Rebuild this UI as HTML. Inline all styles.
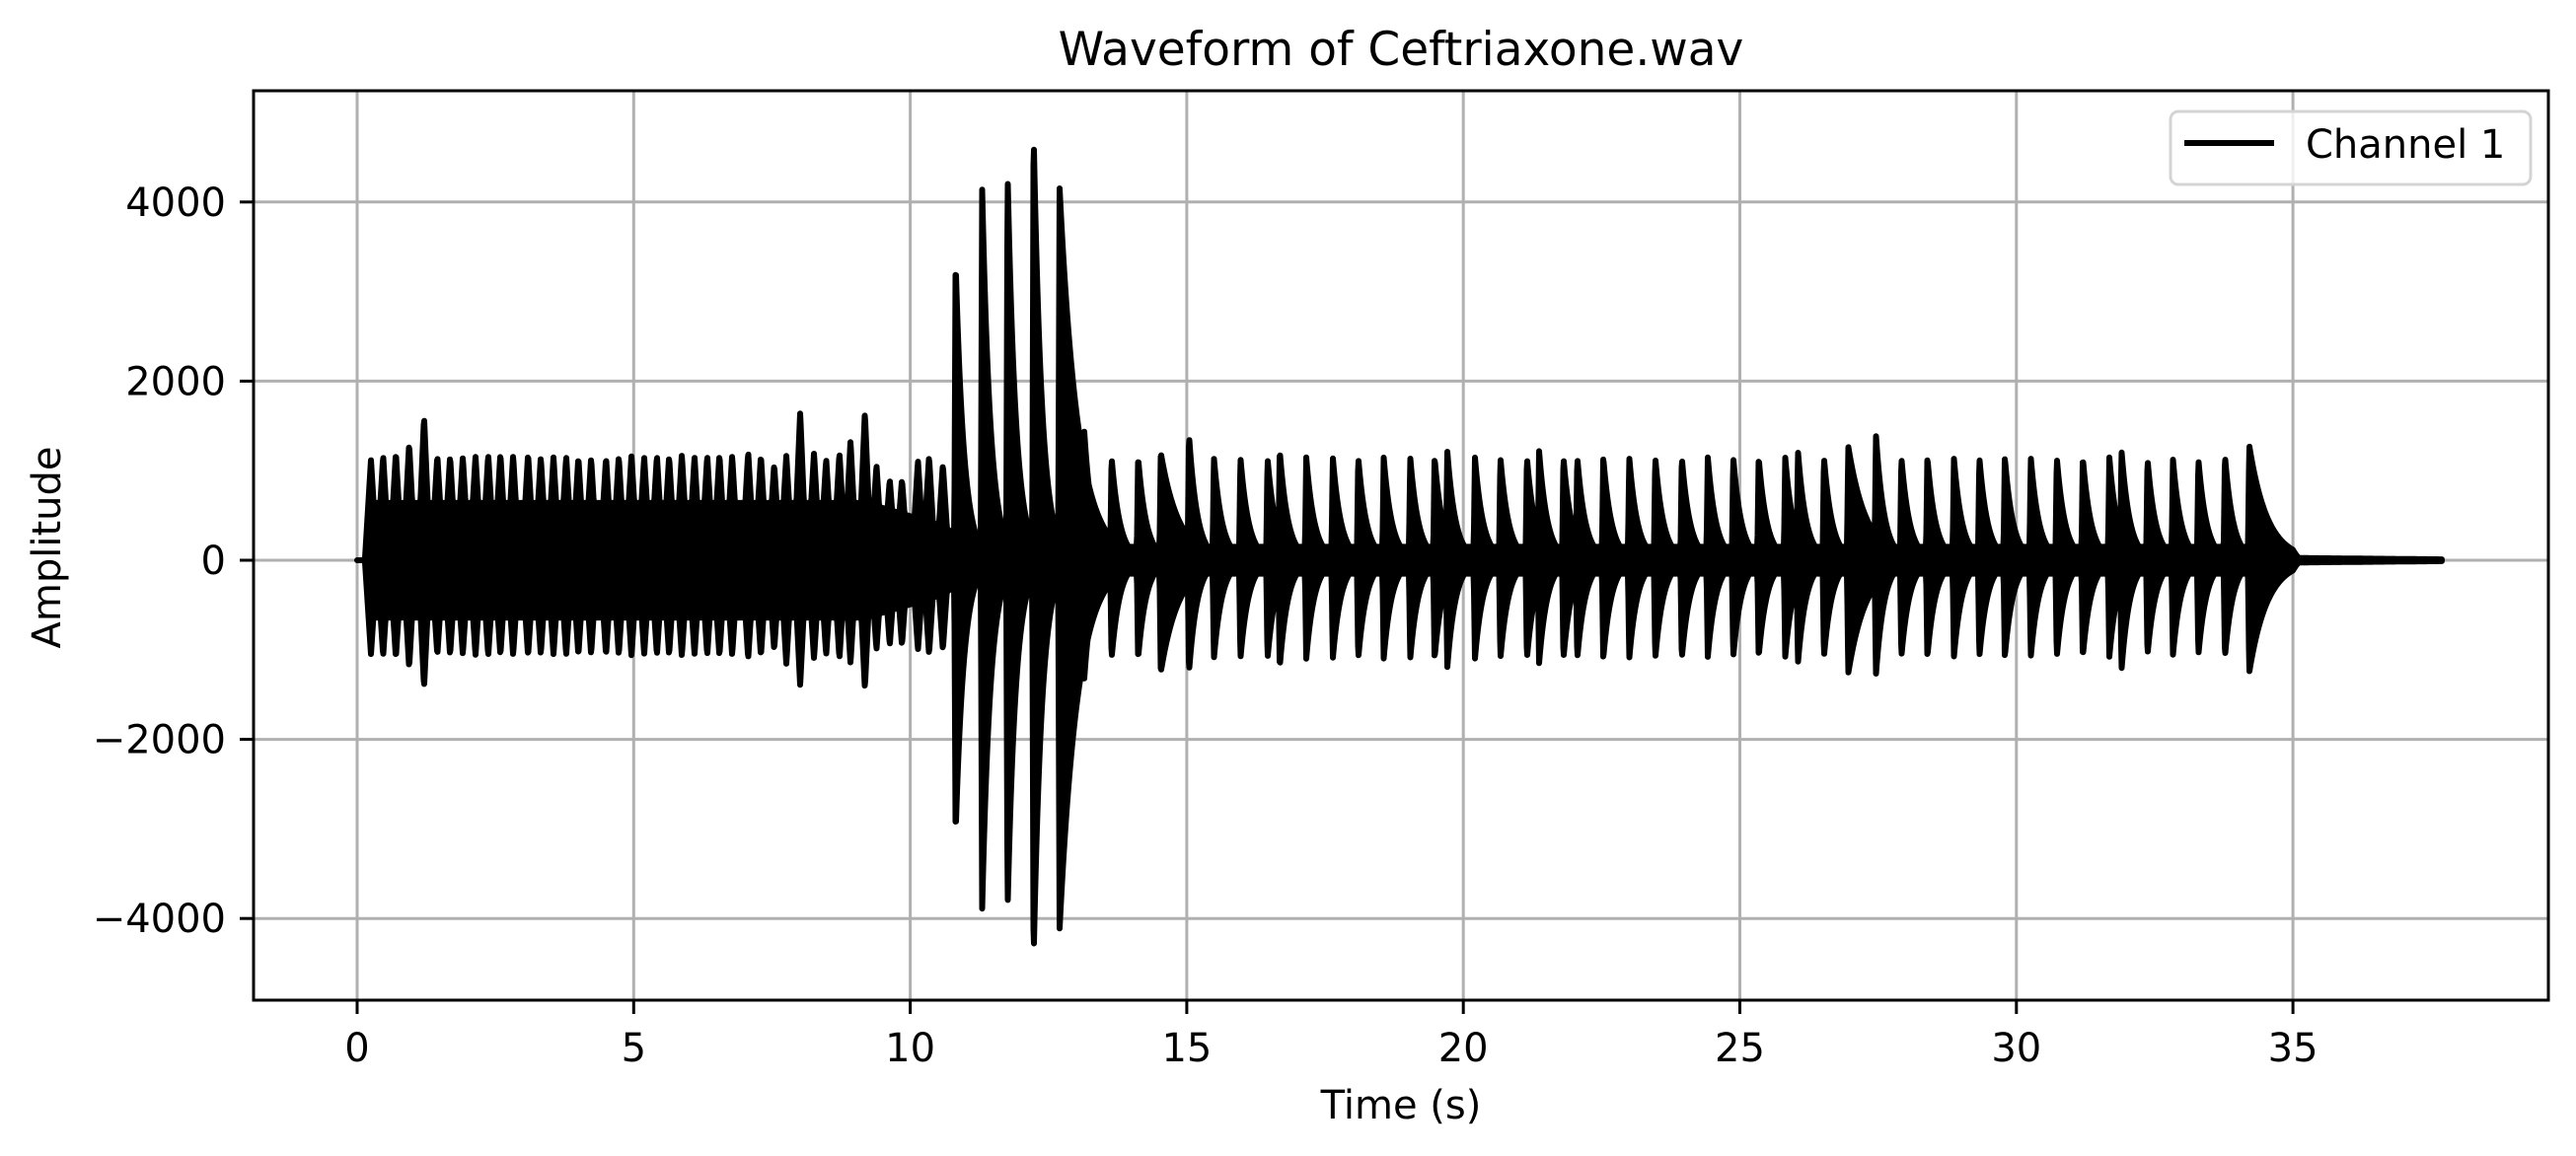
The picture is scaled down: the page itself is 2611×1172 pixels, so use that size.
<!DOCTYPE html>
<html><head><meta charset="utf-8"><style>
html,body{margin:0;padding:0;background:#fff;}
svg{display:block;font-family:"DejaVu Sans","Liberation Sans",sans-serif;}
</style></head><body>
<svg id="chart" width="2611" height="1172" viewBox="0 0 2611 1172" xmlns="http://www.w3.org/2000/svg">
<rect x="0" y="0" width="2611" height="1172" fill="#fff"/>
<g id="grid"></g>
<g id="wave"></g>
<rect x="257" y="92" width="2326" height="922" fill="none" stroke="#000" stroke-width="3"/>
<g id="ticks"></g>
<text x="1420" y="66" font-size="47" text-anchor="middle">Waveform of Ceftriaxone.wav</text>
<text x="1420" y="1134" font-size="40" text-anchor="middle">Time (s)</text>
<text x="0" y="0" font-size="40" text-anchor="middle" transform="translate(61,555) rotate(-90)">Amplitude</text>
<g>
<rect x="2200" y="113" width="365" height="74" rx="8" fill="#fff" fill-opacity="0.8" stroke="#d4d4d4" stroke-width="3"/>
<line x1="2214" y1="145" x2="2305" y2="145" stroke="#000" stroke-width="6"/>
<text x="2337" y="160" font-size="40">Channel 1</text>
</g>
</svg>
<script>
const xTicks=[0,5,10,15,20,25,30,35];
const yTicks=[-4000,-2000,0,2000,4000];
const yTickLabels=["\u22124000","\u22122000","0","2000","4000"];
// regular fast beats (first section)
const seg1Times=[0.25,0.47,0.70,0.94,1.21,1.45,1.68,1.91,2.14,2.37,2.59,2.82,3.09,3.32,3.55,3.78,4.0,4.23,4.5,4.73,4.96,5.19,5.42,5.64,5.87,6.1,6.33,6.55,6.78,7.07,7.3,7.54,7.76,8.01,8.26,8.48,8.72,8.92,9.18,9.39,9.63,9.85,10.14,10.34,10.59];
const seg1Pos=[1120,1170,1200,1300,1600,1170,1160,1150,1160,1180,1190,1170,1190,1150,1150,1160,1150,1140,1150,1160,1170,1150,1170,1160,1180,1150,1170,1180,1170,1210,1170,1070,1170,1650,1200,1130,1200,1330,1650,1060,900,900,1110,1160,1070];
const seg1Neg=[-1050,-1070,-1090,-1200,-1420,-1060,-1060,-1050,-1060,-1070,-1060,-1060,-1070,-1050,-1050,-1060,-1060,-1050,-1060,-1060,-1070,-1050,-1060,-1060,-1070,-1050,-1060,-1070,-1060,-1100,-1070,-1000,-1160,-1400,-1100,-1060,-1100,-1150,-1430,-1000,-950,-950,-1000,-1050,-1000];
// slower decaying beats (second section)
const seg2Times=[10.82,11.30,11.76,12.23,12.70,13.14,13.64,14.12,14.53,15.04,15.49,15.97,16.46,16.68,17.16,17.64,18.1,18.56,19.04,19.48,19.71,20.21,20.67,21.15,21.37,21.81,22.06,22.53,23.0,23.47,23.95,24.42,24.88,25.34,25.82,26.05,26.52,26.96,27.46,27.92,28.39,28.87,29.33,29.79,30.26,30.73,31.2,31.68,31.9,32.37,32.83,33.29,33.77,34.21];
const seg2Pos=[3350,4150,4320,4800,4160,1500,1150,1150,1200,1400,1150,1150,1140,1230,1150,1150,1150,1150,1150,1150,1220,1150,1150,1150,1220,1150,1150,1150,1150,1150,1150,1150,1150,1150,1150,1220,1150,1270,1400,1150,1150,1140,1150,1150,1150,1150,1150,1150,1230,1130,1130,1130,1170,1280];
const seg2Neg=[-3070,-3900,-3900,-4480,-4120,-1380,-1100,-1100,-1250,-1250,-1100,-1100,-1100,-1200,-1100,-1100,-1100,-1100,-1100,-1100,-1200,-1100,-1100,-1100,-1150,-1100,-1100,-1100,-1100,-1100,-1100,-1080,-1080,-1080,-1080,-1150,-1080,-1260,-1280,-1080,-1080,-1080,-1080,-1080,-1080,-1080,-1080,-1080,-1230,-1060,-1060,-1060,-1080,-1250];
const sustainedTimes=[12.70,14.53,26.96,34.21];
const coreTimes=[0,0.22,0.24,9.2,10.6,11.0,13.5,34.9,35.05,37.7];
const coreLevels=[0,0,640,640,380,200,150,150,25,10];
const tEnd=37.7;

const X0=362,PXS=56.06,Y0=568,PYV=0.0908;
function sx(t){return X0+PXS*t;}
function sy(v){return Y0-PYV*v;}
const NS="http://www.w3.org/2000/svg";
function mk(tag,attrs,parent){const e=document.createElementNS(NS,tag);for(const k in attrs)e.setAttribute(k,attrs[k]);parent.appendChild(e);return e;}

const grid=document.getElementById('grid'),ticks=document.getElementById('ticks');
xTicks.forEach(t=>{
  const g=mk('line',{x1:sx(t),x2:sx(t),y1:92,y2:1014,stroke:'#b0b0b0','stroke-width':3},grid);
  
  
  const tk=mk('line',{x1:sx(t),x2:sx(t),y1:1014,y2:1028,stroke:'#000','stroke-width':3},ticks);
  
  
  const lb=mk('text',{x:sx(t),y:1076,'font-size':40,'text-anchor':'middle'},ticks);
  lb.textContent=String(t);
  
  
});
yTicks.forEach((v,i)=>{
  const g=mk('line',{x1:257,x2:2583,y1:sy(v),y2:sy(v),stroke:'#b0b0b0','stroke-width':3},grid);
  
  
  const tk=mk('line',{x1:243,x2:257,y1:sy(v),y2:sy(v),stroke:'#000','stroke-width':3},ticks);
  
  
  const lb=mk('text',{x:229,y:sy(v)+14,'font-size':40,'text-anchor':'end'},ticks);
  lb.textContent=yTickLabels[i];
  
  
});

function core(t){
  for(let i=0;i<coreTimes.length-1;i++){
    if(t>=coreTimes[i]&&t<=coreTimes[i+1]){
      const f=(t-coreTimes[i])/(coreTimes[i+1]-coreTimes[i]);
      return coreLevels[i]+f*(coreLevels[i+1]-coreLevels[i]);
    }
  }
  return 0;
}
function spike1(dt){return Math.max(0,1-Math.abs(dt)/0.11);}
function spike2(dt,tau){
  if(dt<-0.025)return 0;
  if(dt<0)return 1+dt/0.025;
  return Math.exp(-dt/tau);
}
const up=[],lo=[];
for(let px=sx(0);px<=sx(tEnd);px+=0.5){
  const t=(px-X0)/PXS;
  let c=core(t),p=c,n=-c;
  for(let i=0;i<seg1Times.length;i++){
    const s=spike1(t-seg1Times[i]);
    if(s>0){p=Math.max(p,seg1Pos[i]*s);n=Math.min(n,seg1Neg[i]*s);}
  }
  for(let i=0;i<seg2Times.length;i++){
    const tau=sustainedTimes.includes(seg2Times[i])?0.33:0.15;
    let s=spike2(t-seg2Times[i],tau);
    if(t>35)s*=Math.max(0,1-(t-35)/0.15);
    if(s>0.001){p=Math.max(p,seg2Pos[i]*s);n=Math.min(n,seg2Neg[i]*s);}
  }
  up.push(px.toFixed(1)+','+sy(p).toFixed(1));
  lo.push(px.toFixed(1)+','+sy(n).toFixed(1));
}
const d='M'+up.join('L')+'L'+lo.reverse().join('L')+'Z';
const wave=mk('path',{d:d,fill:'#000',stroke:'#000','stroke-width':6,'stroke-linejoin':'round'},document.getElementById('wave'));


</script>
</body></html>
